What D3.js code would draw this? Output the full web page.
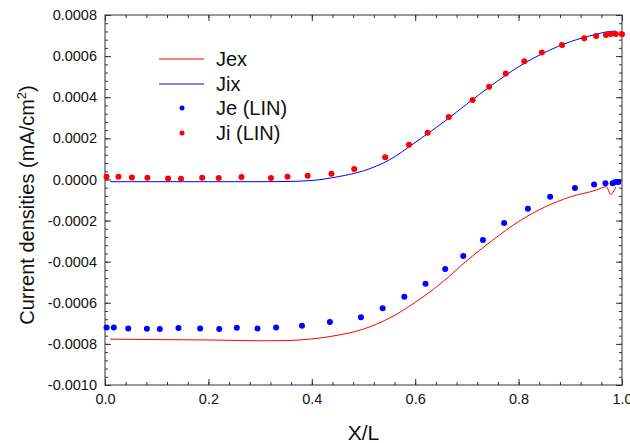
<!DOCTYPE html>
<html>
<head>
<meta charset="utf-8">
<script src="https://cdn.jsdelivr.net/npm/d3@7"></script>
<style>
body { margin: 0; background: #fff; }
text { font-family: "Liberation Sans", Arial, sans-serif; }
</style>
</head>
<body>
<svg id="chart" width="630" height="443"></svg>
<script>
// simulated curves (values in 1e-4 mA/cm2)
const lineX = [0.01, 0.05, 0.1, 0.15, 0.2, 0.25, 0.3, 0.35, 0.4, 0.45, 0.5, 0.55, 0.6, 0.65, 0.7, 0.75, 0.8, 0.85, 0.9, 0.95, 0.97, 0.978, 0.988]
const jexVals = [-7.77, -7.78, -7.79, -7.80, -7.81, -7.83, -7.85, -7.84, -7.76, -7.58, -7.28, -6.75, -5.98, -5.05, -3.95, -2.95, -2.05, -1.35, -0.85, -0.52, -0.35, -0.73, -0.36]
const jixVals = [-0.11, -0.11, -0.11, -0.11, -0.11, -0.11, -0.11, -0.10, -0.05, 0.13, 0.42, 0.95, 1.80, 2.70, 3.67, 4.62, 5.48, 6.17, 6.70, 7.06, 7.18, 7.20, 7.22]

// LIN points
const jeX = [0.003, 0.017, 0.045, 0.081, 0.106, 0.142, 0.184, 0.221, 0.255, 0.295, 0.331, 0.381, 0.435, 0.495, 0.537, 0.579, 0.620, 0.658, 0.693, 0.731, 0.772, 0.818, 0.861, 0.909, 0.946, 0.968, 0.982, 0.987, 0.993]
const jeVals = [-7.20, -7.20, -7.25, -7.26, -7.28, -7.23, -7.25, -7.28, -7.22, -7.25, -7.20, -7.12, -6.94, -6.71, -6.27, -5.71, -5.08, -4.36, -3.73, -2.95, -2.12, -1.43, -0.84, -0.42, -0.24, -0.19, -0.19, -0.13, -0.13]
const jiX = [0.003, 0.026, 0.052, 0.082, 0.122, 0.147, 0.188, 0.220, 0.264, 0.321, 0.353, 0.392, 0.438, 0.482, 0.542, 0.588, 0.624, 0.665, 0.711, 0.743, 0.775, 0.811, 0.845, 0.884, 0.927, 0.950, 0.969, 0.978, 0.988, 1.0]
const jiVals = [0.13, 0.13, 0.10, 0.08, 0.05, 0.03, 0.08, 0.07, 0.12, 0.07, 0.13, 0.18, 0.28, 0.51, 1.08, 1.69, 2.27, 3.04, 3.86, 4.51, 5.16, 5.75, 6.18, 6.54, 6.87, 6.98, 7.03, 7.08, 7.08, 7.06]

const xMajor = [0, 0.2, 0.4, 0.6, 0.8, 1.0]
const yMajor = [-0.0010, -0.0008, -0.0006, -0.0004, -0.0002, 0, 0.0002, 0.0004, 0.0006, 0.0008]
const legendNames = ['Jex', 'Jix', 'Je (LIN)', 'Ji (LIN)']

const margin = { left: 105, top: 15, right: 8, bottom: 58 }
const width = 630
const height = 443

const svg = d3.select('#chart')

const x = d3.scaleLinear()
    .domain([0, 1])
    .range([margin.left, width - margin.right])

const y = d3.scaleLinear()
    .domain([-0.0010, 0.0008])
    .range([height - margin.bottom, margin.top])

const xMinor = d3.range(0, 1.0001, 0.04).map(d => +d.toFixed(2))
const yMinor = d3.range(-0.0010, 0.00080001, 0.00004).map(d => +d.toFixed(5))

const fmtY = d => Math.abs(d) < 1e-9 ? '0.0000' : d.toFixed(4)
const fmtX = d => d.toFixed(1)

const axisStyle = g => g
    .call(g => g.select('.domain').remove())
    .call(g => g.selectAll('line').attr('stroke', '#333'))
    .call(g => g.selectAll('text').attr('font-size', 14.5).attr('fill', '#111'))

const bottomY = height - margin.bottom
const topY = margin.top
const leftX = margin.left
const rightX = width - margin.right

// minor ticks on all sides
svg.append('g').attr('transform', `translate(0,${bottomY})`)
    .call(d3.axisBottom(x).tickValues(xMinor).tickSize(-3).tickFormat(''))
    .call(axisStyle)
svg.append('g').attr('transform', `translate(0,${topY})`)
    .call(d3.axisTop(x).tickValues(xMinor).tickSize(-3).tickFormat(''))
    .call(axisStyle)
svg.append('g').attr('transform', `translate(${leftX},0)`)
    .call(d3.axisLeft(y).tickValues(yMinor).tickSize(-3).tickFormat(''))
    .call(axisStyle)
svg.append('g').attr('transform', `translate(${rightX},0)`)
    .call(d3.axisRight(y).tickValues(yMinor).tickSize(-3).tickFormat(''))
    .call(axisStyle)

// major ticks
svg.append('g').attr('transform', `translate(0,${bottomY})`)
    .call(d3.axisBottom(x).tickValues(xMajor).tickSize(-6).tickPadding(9).tickFormat(fmtX))
    .call(axisStyle)
svg.append('g').attr('transform', `translate(0,${topY})`)
    .call(d3.axisTop(x).tickValues(xMajor).tickSize(-6).tickFormat(''))
    .call(axisStyle)
svg.append('g').attr('transform', `translate(${leftX},0)`)
    .call(d3.axisLeft(y).tickValues(yMajor).tickSize(-6).tickPadding(8).tickFormat(fmtY))
    .call(axisStyle)
svg.append('g').attr('transform', `translate(${rightX},0)`)
    .call(d3.axisRight(y).tickValues(yMajor).tickSize(-6).tickFormat(''))
    .call(axisStyle)

// frame
svg.append('rect')
    .attr('x', leftX)
    .attr('y', topY)
    .attr('width', rightX - leftX)
    .attr('height', bottomY - topY)
    .attr('fill', 'none')
    .attr('stroke', '#333')
    .attr('stroke-width', 1)

// curves
const line = d3.line()
    .x(d => x(d[0]))
    .y(d => y(d[1] * 1e-4))
    .curve(d3.curveMonotoneX)

svg.append('path')
    .datum(lineX.map((d, i) => [d, jexVals[i]]))
    .attr('d', line)
    .attr('fill', 'none')
    .attr('stroke', '#ff0000')
    .attr('stroke-width', 1)

svg.append('path')
    .datum(lineX.map((d, i) => [d, jixVals[i]]))
    .attr('d', line)
    .attr('fill', 'none')
    .attr('stroke', '#0000ff')
    .attr('stroke-width', 1)

// points
svg.append('g')
    .selectAll('circle')
    .data(jeX.map((d, i) => [d, jeVals[i]]))
    .join('circle')
    .attr('cx', d => x(d[0]))
    .attr('cy', d => y(d[1] * 1e-4))
    .attr('r', 3)
    .attr('fill', '#0000ff')

svg.append('g')
    .selectAll('circle')
    .data(jiX.map((d, i) => [d, jiVals[i]]))
    .join('circle')
    .attr('cx', d => x(d[0]))
    .attr('cy', d => y(d[1] * 1e-4))
    .attr('r', 3)
    .attr('fill', '#ff0000')

// legend
const legendColor = { 'Jex': '#ff0000', 'Jix': '#0000ff', 'Je (LIN)': '#0000ff', 'Ji (LIN)': '#ff0000' }
const legend = svg.append('g')
    .selectAll('g')
    .data(legendNames)
    .join('g')
    .attr('transform', (d, i) => `translate(159,${Math.round(59 + i * 24.5)})`)

legend.filter(d => d == 'Jex' || d == 'Jix')
    .append('line')
    .attr('x1', 0)
    .attr('x2', 45)
    .attr('stroke', d => legendColor[d])
    .attr('stroke-width', 1)

legend.filter(d => d.indexOf('LIN') > -1)
    .append('circle')
    .attr('cx', 23)
    .attr('r', 2.5)
    .attr('fill', d => legendColor[d])

legend.append('text')
    .attr('x', 57)
    .attr('dy', '0.36em')
    .attr('font-size', 20)
    .attr('fill', '#111')
    .text(d => d)

// axis titles
svg.append('text')
    .attr('x', (leftX + rightX) / 2)
    .attr('y', 440)
    .attr('text-anchor', 'middle')
    .attr('font-size', 21)
    .attr('fill', '#111')
    .text('X/L')

const yTitle = svg.append('text')
    .attr('transform', `translate(34,205) rotate(-90)`)
    .attr('text-anchor', 'middle')
    .attr('font-size', 20)
    .attr('fill', '#111')
yTitle.append('tspan').text('Current densities (mA/cm')
yTitle.append('tspan').attr('font-size', 13).attr('dy', -8).text('2')
yTitle.append('tspan').attr('dy', 8).text(')')
</script>
</body>
</html>
